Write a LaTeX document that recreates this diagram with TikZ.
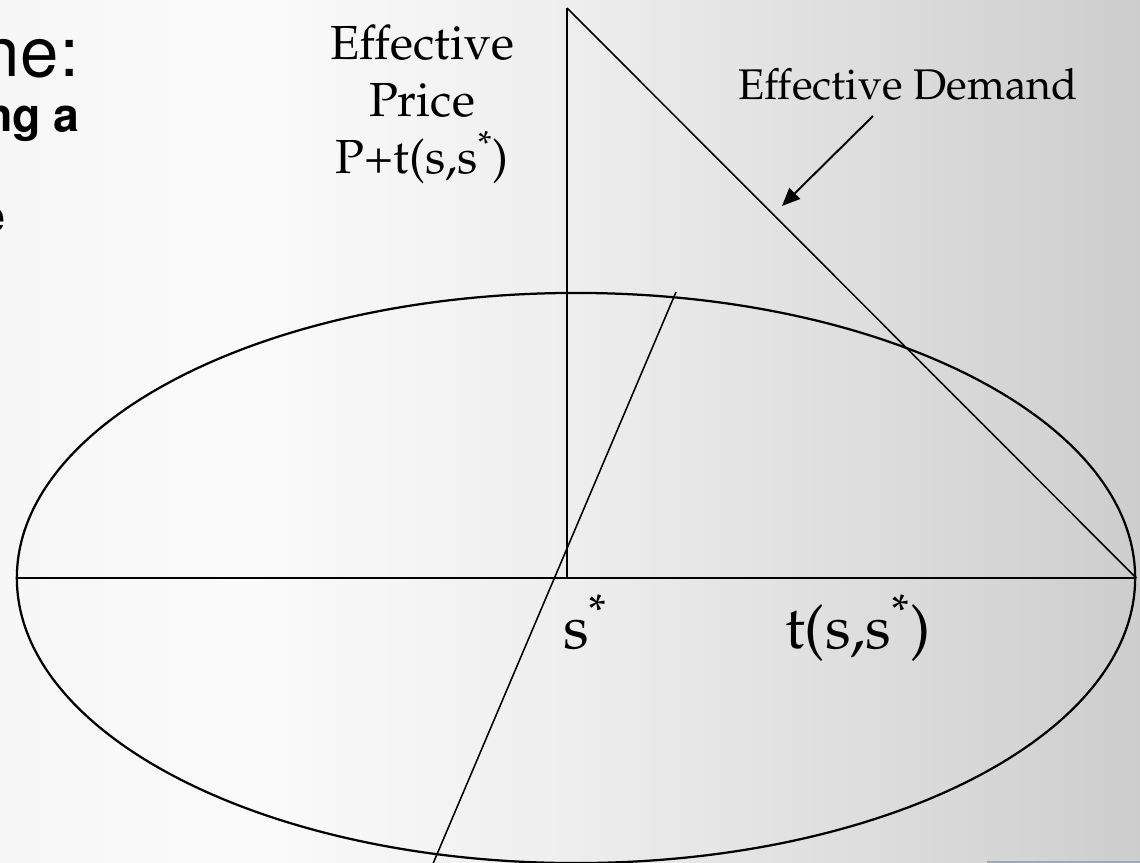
\documentclass[tikz,border=0pt]{standalone}
\usepackage[T1]{fontenc}
\usepackage{mathpazo}
\usepackage{helvet}
\usepackage{tikz}
\usetikzlibrary{
  arrows.meta,
  shapes.geometric,
  positioning
}
\definecolor{bgLeft}{HTML}{EBEBEB}
\definecolor{bgSoft}{HTML}{F4F4F4}
\definecolor{bgMid}{HTML}{FBFBFB}
\definecolor{bgLight}{HTML}{EEEEEE}
\definecolor{bgGray}{HTML}{DCDCDC}
\definecolor{bgDark}{HTML}{C4C4C4}
\definecolor{bgRight}{HTML}{A7A7A7}
\definecolor{barBlue}{HTML}{9DA9BB}
\pgfdeclarehorizontalshading{slidebg}{100bp}{color(0bp)=(bgLeft); color(18bp)=(bgSoft); color(36bp)=(bgMid); color(50bp)=(bgLight); color(64bp)=(bgGray); color(82bp)=(bgDark); color(100bp)=(bgRight)}
\tikzset{
  axisline/.style={draw=black, line width=1.1pt},
  rimline/.style={draw=black, line width=1.6pt},
  pointer/.style={-{Triangle[length=4.5mm, width=3.8mm]}, line width=1.4pt},
  pricetag/.style={font=\fontsize{34}{40.5}\selectfont, align=center, inner sep=0pt},
  demandtag/.style={font=\fontsize{30.5}{36}\selectfont, inner sep=0pt},
  axistag/.style={font=\fontsize{43}{50}\selectfont, inner sep=0pt},
  slidehead/.style={font=\sffamily\fontsize{49}{58}\selectfont, inner sep=0pt},
  slidebody/.style={font=\sffamily\bfseries\fontsize{33}{40}\selectfont, inner sep=0pt}
}

\begin{document}
\begin{tikzpicture}[x=0.025cm, y=-0.025cm]
  \useasboundingbox (0,0) rectangle (1140,863);
  \clip (0,0) rectangle (1140,863);
  \shade[shading=slidebg] (0,0) rectangle (1140,863);
  \fill[barBlue] (987,860.5) rectangle (1140,863);
  % leftover slide text, cut at the page edge
  \node[slidehead, anchor=base east] (head) at (78,76) {ne:};
  \node[slidebody, anchor=base east] (body1) at (80,131) {ng a};
  \node[slidebody, anchor=base east] (body2) at (6,232) {e};
  % market disc and axes
  \node[ellipse, rimline, minimum width=27.95cm, minimum height=14.25cm, inner sep=0pt] (disc) at (576,578) {};
  \coordinate (origin) at (567,578);
  \coordinate (peak) at (567,8);
  \coordinate (sTop) at (676,292);
  \coordinate (sBot) at (432,866);
  \draw[axisline, line width=1.4pt] (disc.west) -- (disc.east);
  \draw[axisline] (origin) -- (peak);
  \draw[axisline] (peak) -- (disc.east);
  \draw[axisline] (sTop) -- (sBot);
  % labels
  \node[pricetag, anchor=north] (price) at (422,25) {Effective\\Price\\P+t(s,s\textsuperscript{*})};
  \node[demandtag, anchor=base] (demand) at (908,99) {Effective Demand};
  \coordinate (dFrom) at (873,116);
  \coordinate (dTip) at (782,206);
  \draw[pointer] (dFrom) -- (dTip);
  \node[axistag, anchor=base west] (sstar) at (563,648) {s\textsuperscript{*}};
  \node[axistag, anchor=base west] (tcost) at (785,648) {t(s,s\textsuperscript{*})};
\end{tikzpicture}
\end{document}
